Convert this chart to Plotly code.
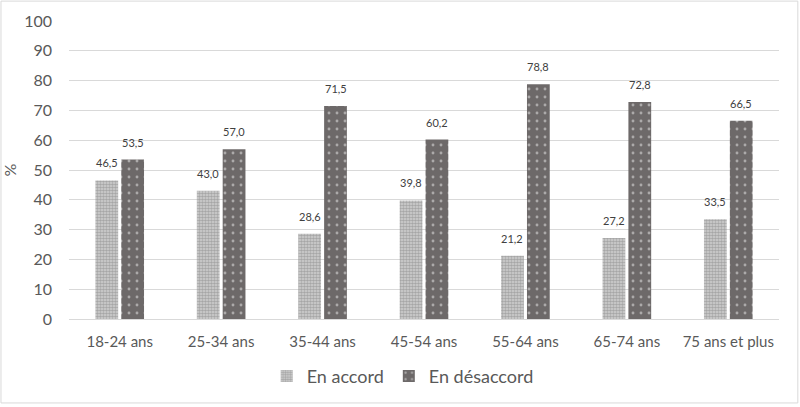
import plotly.graph_objects as go

categories = ["18-24 ans", "25-34 ans", "35-44 ans", "45-54 ans",
              "55-64 ans", "65-74 ans", "75 ans et plus"]
en_accord = [46.5, 43.0, 28.6, 39.8, 21.2, 27.2, 33.5]
en_desaccord = [53.5, 57.0, 71.5, 60.2, 78.8, 72.8, 66.5]

def fr(v):
    return f"{v:.1f}".replace(".", ",")

font_family = "Lato, Open Sans, sans-serif"

fig = go.Figure()
fig.add_trace(go.Bar(
    x=categories, y=en_accord, name="En accord",
    marker=dict(color="#a8a8a8", line=dict(width=0),
                pattern=dict(shape=".", fgcolor="#7a7a7a", bgcolor="#d2d2d2",
                             size=3, solidity=0.6)),
))
fig.add_trace(go.Bar(
    x=categories, y=en_desaccord, name="En désaccord",
    marker=dict(color="#6d6969", line=dict(width=0),
                pattern=dict(shape=".", fgcolor="#ececec", bgcolor="#6d6969",
                             size=8, solidity=0.1)),
))

# value labels above each bar (French decimal comma)
for vals, shift in ((en_accord, -13), (en_desaccord, 13)):
    for cat, v in zip(categories, vals):
        fig.add_annotation(x=cat, y=v, text=fr(v), showarrow=False,
                           xshift=shift, yshift=9, yanchor="bottom",
                           font=dict(size=11, color="#404040"))

# light frame around the whole chart
fig.add_shape(type="rect", xref="paper", yref="paper",
              x0=-0.0958, x1=1.0265, y0=-0.2817, y1=1.0667,
              line=dict(color="#d9d9d9", width=1), fillcolor="rgba(0,0,0,0)")

fig.update_layout(
    width=800, height=407,
    margin=dict(l=69, r=21, t=21, b=86),
    paper_bgcolor="white", plot_bgcolor="white",
    font=dict(family=font_family, color="#595959", size=13),
    barmode="group", bargap=0.49, bargroupgap=0.12,
    showlegend=True,
    legend=dict(orientation="h", x=0.47, xanchor="center", y=-0.13, yanchor="top",
                font=dict(size=18, color="#595959"), itemwidth=30),
    xaxis=dict(showline=True, linecolor="#d9d9d9", ticks="", tickfont=dict(size=15),
               ticklabelstandoff=9, automargin=False),
    yaxis=dict(range=[0, 100], dtick=10, showgrid=True, gridcolor="#d9d9d9",
               zeroline=False, ticks="", tickfont=dict(size=16),
               ticklabelstandoff=16, automargin=False,
               title=dict(text="%", font=dict(size=16), standoff=4)),
)

fig.write_html("out.html", config={"displayModeBar": False},
               post_script="document.body.style.margin='0';")
